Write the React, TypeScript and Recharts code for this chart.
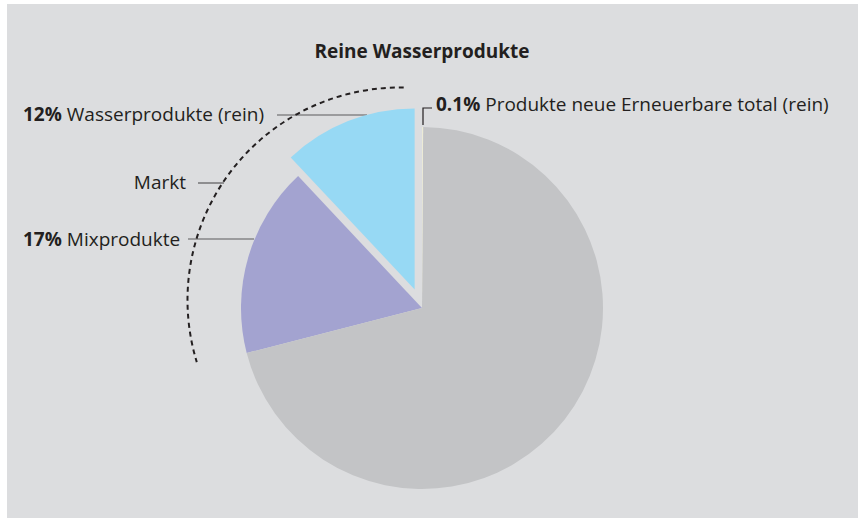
import { Pie, PieChart, Cell } from "recharts";

const names = ["Wasserprodukte (rein)", "Mixprodukte", "Übrige", "Produkte neue Erneuerbare total (rein)"];
const shares = [12, 17, 70.9, 0.1];
const colors = ["#97d9f4", "#a3a3d0", "#c3c4c6", "#ecebd6"];

const W = 858;
const H = 519;
const CX = 422;
const CY = 308;
const R = 181;
const EXPLODE = 20;

const data = names.map((name, i) => ({ name, value: shares[i] }));
const total = shares.reduce((a, b) => a + b, 0);

// mid angle of the first (exploded) slice, starting at 12 o'clock going counter-clockwise
const midAngle = 90 + (shares[0] / total) * 360 / 2;
const rad = (midAngle * Math.PI) / 180;
const offX = EXPLODE * Math.cos(rad);
const offY = -EXPLODE * Math.sin(rad);

const textColor = "#231f20";
const lineColor = "#5b5a5c";
const font = "'Open Sans', sans-serif";

function marketArc() {
  const ax = CX - 22;
  const ay = CY - 8;
  const r = 212.5;
  const a0 = (89 * Math.PI) / 180;
  const a1 = (197 * Math.PI) / 180;
  const x0 = ax + r * Math.cos(a0);
  const y0 = ay - r * Math.sin(a0);
  const x1 = ax + r * Math.cos(a1);
  const y1 = ay - r * Math.sin(a1);
  return `M${x0},${y0} A${r},${r} 0 0 0 ${x1},${y1}`;
}

export default function App() {
  return (
    <div style={{ position: "absolute", left: 0, top: 0, width: W, height: H, background: "#fff" }}>
      <div style={{ position: "absolute", left: 7, top: 4, width: W - 7, height: H - 5, background: "#dcdddf" }} />
      <svg width={W} height={H} style={{ position: "absolute", left: 0, top: 0 }}>
        <line x1={277} y1={115} x2={367} y2={115} stroke={lineColor} strokeWidth={1.2} />
        <line x1={188} y1={239} x2={254} y2={239} stroke={lineColor} strokeWidth={1.2} />
      </svg>
      <div style={{ position: "absolute", left: 0, top: 0 }}>
        <PieChart width={W} height={H} margin={{ top: 0, right: 0, bottom: 0, left: 0 }}>
          <Pie
            data={data}
            dataKey="value"
            cx={CX}
            cy={CY}
            outerRadius={R}
            startAngle={90}
            endAngle={450}
            stroke="none"
            isAnimationActive={false}
          >
            {data.map((d, i) => (
              <Cell key={d.name} fill={i === 0 ? "transparent" : colors[i]} />
            ))}
          </Pie>
          <Pie
            data={data}
            dataKey="value"
            cx={CX + offX}
            cy={CY + offY}
            outerRadius={R}
            startAngle={90}
            endAngle={450}
            stroke="none"
            isAnimationActive={false}
          >
            {data.map((d, i) => (
              <Cell key={d.name} fill={i === 0 ? colors[0] : "transparent"} />
            ))}
          </Pie>
        </PieChart>
      </div>
      <svg width={W} height={H} style={{ position: "absolute", left: 0, top: 0, pointerEvents: "none" }} fontFamily={font}>
        <text x={422} y={58} textAnchor="middle" fontSize={19} fontWeight={700} fill={textColor}>
          Reine Wasserprodukte
        </text>
        <path d={marketArc()} fill="none" stroke={textColor} strokeWidth={2} strokeDasharray="5 4" />
        <text x={23} y={121} fontSize={19} fill={textColor}>
          <tspan fontWeight={700}>12%</tspan> {names[0]}
        </text>
        <text x={186} y={189} textAnchor="end" fontSize={19} fill={textColor}>
          Markt
        </text>
        <line x1={198} y1={183} x2={224} y2={183} stroke={lineColor} strokeWidth={1.2} />
        <text x={23} y={246} fontSize={19} fill={textColor}>
          <tspan fontWeight={700}>17%</tspan> {names[1]}
        </text>
        <polyline points="423,125 423,108 432,108" fill="none" stroke={textColor} strokeWidth={1.2} />
        <text x={436} y={111} fontSize={19} fill={textColor}>
          <tspan fontWeight={700}>0.1%</tspan> {names[3]}
        </text>
      </svg>
    </div>
  );
}
